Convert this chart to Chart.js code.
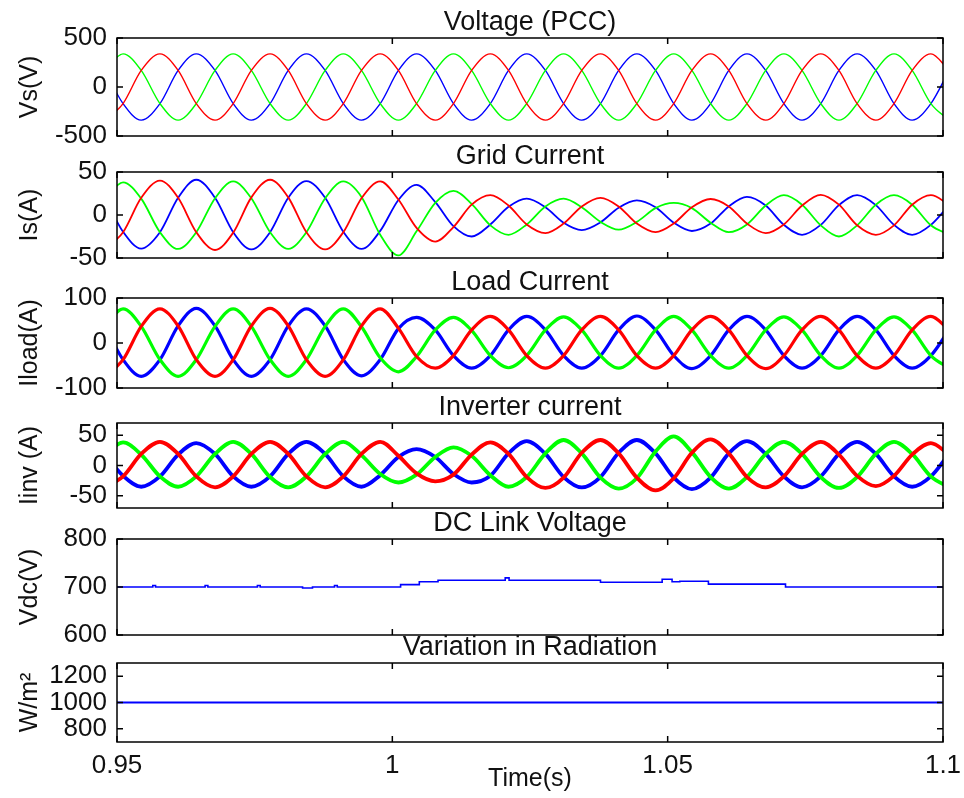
<!DOCTYPE html>
<html>
<head>
<meta charset="utf-8">
<title>PCC waveforms</title>
<script src="https://cdn.jsdelivr.net/npm/chart.js@4.4.1/dist/chart.umd.min.js"></script>
<style>
  body { margin: 0; background: #fff; }
  #wrap { position: relative; width: 964px; height: 798px; overflow: hidden; }
  #wrap canvas { position: absolute; left: 0; }
</style>
</head>
<body>
<div id="wrap">
  <canvas id="cVs"></canvas>
  <canvas id="cIs"></canvas>
  <canvas id="cIload"></canvas>
  <canvas id="cIinv"></canvas>
  <canvas id="cVdc"></canvas>
  <canvas id="cRad"></canvas>
</div>
<script>
// sample times (s), one every 60 deg of the 50 Hz wave
const timeS = [
  0.9478, 0.9511, 0.9544, 0.9578, 0.9611, 0.9644,
  0.9678, 0.9711, 0.9744, 0.9778, 0.9811, 0.9844,
  0.9878, 0.9911, 0.9944, 0.9978, 1.0011, 1.0044,
  1.0078, 1.0111, 1.0144, 1.0178, 1.0211, 1.0244,
  1.0278, 1.0311, 1.0344, 1.0378, 1.0411, 1.0444,
  1.0478, 1.0511, 1.0544, 1.0578, 1.0611, 1.0644,
  1.0678, 1.0711, 1.0744, 1.0778, 1.0811, 1.0844,
  1.0878, 1.0911, 1.0944, 1.0978, 1.1011
];

// Voltage (PCC)
const vsGreen = [
  169, 338, 169, -169, -338, -169,
  169, 338, 169, -169, -338, -169,
  169, 338, 169, -169, -338, -169,
  169, 338, 169, -169, -338, -169,
  169, 338, 169, -169, -338, -169,
  169, 338, 169, -169, -338, -169,
  169, 338, 169, -169, -338, -169,
  169, 338, 169, -169, -338
];
const vsRed = [
  -338, -169, 169, 338, 169, -169,
  -338, -169, 169, 338, 169, -169,
  -338, -169, 169, 338, 169, -169,
  -338, -169, 169, 338, 169, -169,
  -338, -169, 169, 338, 169, -169,
  -338, -169, 169, 338, 169, -169,
  -338, -169, 169, 338, 169, -169,
  -338, -169, 169, 338, 169
];
const vsBlue = [
  169, -169, -338, -169, 169, 338,
  169, -169, -338, -169, 169, 338,
  169, -169, -338, -169, 169, 338,
  169, -169, -338, -169, 169, 338,
  169, -169, -338, -169, 169, 338,
  169, -169, -338, -169, 169, 338,
  169, -169, -338, -169, 169, 338,
  169, -169, -338, -169, 169
];

// Grid Current
const isGreen = [
  19, 38, 19, -20, -39.5, -20,
  19.5, 39, 19.5, -20, -39.5, -20,
  19.5, 39, 21, -23, -47, -19,
  14, 28, 13, -12, -23, -11,
  10, 19, 9, -8, -17, -8,
  8, 14, 8, -9, -20, -11,
  11, 23, 12, -12, -25, -12,
  12, 23, 12, -12, -23
];
const isRed = [
  -40, -20, 20, 40, 20, -20,
  -40.7, -20.5, 20.5, 41, 20.5, -20,
  -40, -20, 19.5, 39, 18, -15,
  -31, -14, 12, 23, 11, -11,
  -21, -10, 10, 20, 10, -10,
  -20, -10, 9, 18.6, 10, -10,
  -21, -11, 11, 23.5, 12, -12,
  -23, -12, 12, 23, 12
];
const isBlue = [
  20, -19.5, -39, -20, 20, 41,
  20, -20, -40, -20, 20, 39.5,
  20, -19.5, -39.5, -18.5, 17.5, 35,
  15, -13, -25, -11, 9.5, 19,
  9, -9, -17.5, -8.5, 8.5, 17,
  9, -9, -18.6, -10, 10, 21,
  11, -11.5, -23, -11.5, 11.5, 23,
  11.5, -11.5, -23, -11.5, 11.5
];

// Load Current
const ilGreen = [
  38, 76, 37, -37, -74, -37,
  37, 76, 37, -37, -74, -37,
  37, 76, 36, -33, -64, -30,
  29, 57, 28, -28, -55, -28,
  29, 58, 29, -28, -56, -28,
  29, 59, 29, -28, -56, -28,
  29, 58, 29, -28, -56, -28,
  29, 58, 29, -28, -56
];
const ilRed = [
  -74, -37, 37, 76, 38, -37,
  -74, -37, 38, 77, 38, -37,
  -74, -37, 38, 76, 33, -30,
  -56, -28, 29, 59, 29, -28,
  -56, -28, 29, 59, 29, -28,
  -56, -28, 29, 59, 29, -28,
  -57, -28, 29, 59, 29, -28,
  -56, -28, 29, 59, 29
];
const ilBlue = [
  38, -37, -74, -37, 38, 77,
  38, -37, -74, -37, 38, 76,
  38, -37, -73, -37, 32, 57,
  29, -28, -56, -28, 29, 59,
  29, -28, -56, -28, 29, 60,
  29, -28, -57, -28, 29, 59,
  29, -28, -56, -28, 29, 59,
  29, -28, -56, -28, 29
];

// Inverter current
const iiGreen = [
  19, 38, 18, -18, -35, -18,
  19, 39, 19, -19, -36, -18,
  19, 39, 17, -14, -28, -15,
  14, 30, 16, -16, -35, -19,
  20, 42, 20, -20, -38, -21,
  23, 48, 22, -19, -38, -19,
  19, 39, 19, -19, -37, -19,
  19, 39, 19, -18, -36
];
const iiRed = [
  -36, -18, 19, 39, 19, -18,
  -36, -18, 19, 39, 19, -18,
  -36, -18, 19, 39, 16, -13,
  -26, -15, 18, 38, 19, -19,
  -37, -20, 21, 42, 20, -20,
  -41, -21, 21, 43, 20, -19,
  -36, -18, 19, 39, 18, -17,
  -34, -17, 18, 37, 18
];
const iiBlue = [
  18, -17, -35, -18, 18, 37,
  19, -18, -35, -18, 19, 39,
  19, -18, -35, -16, 14, 27,
  14, -14, -28, -17, 20, 40,
  19, -19, -36, -19, 21, 42,
  20, -20, -39, -20, 20, 40,
  19, -18, -36, -18, 19, 39,
  19, -18, -35, -18, 19
];

// DC Link Voltage (held between samples)
const dcTime = [0.95, 0.9565, 0.957, 0.966, 0.9665, 0.9755, 0.976, 0.9837, 0.9855, 0.9895, 0.99,
  1.0015, 1.0049, 1.0083, 1.0205, 1.0212, 1.0378, 1.049, 1.0508, 1.0522, 1.0574, 1.0714, 1.1];
const dcVolt = [700, 703, 700, 703, 700, 703, 700, 698, 700, 703, 700,
  705, 711, 714, 719, 714, 710, 716, 711, 712, 706, 700, 700];

// Variation in Radiation
const radTime = [0.95, 1.1];
const radValue = [1000, 1000];

// axis ticks
const xTicks = [0.95, 1.0, 1.05, 1.1];
const xTickLabels = ["0.95", "1", "1.05", "1.1"];
const vsTicks = [-500, 0, 500];
const isTicks = [-50, 0, 50];
const ilTicks = [-100, 0, 100];
const iiTicks = [-50, 0, 50];
const dcTicks = [600, 700, 800];
const radTicks = [800, 1000, 1200];

Chart.defaults.font.family = "'Liberation Sans', Arial, sans-serif";
Chart.defaults.color = "#111";

const PLOT_LEFT = 117;
const PLOT_RIGHT = 943;
const TITLE_SPACE = 36;
const BELOW = 24; // room under each box for the lowest tick label

// MATLAB style box with inward ticks on all sides
const boxPlugin = {
  id: "matlabBox",
  afterDatasetsDraw(chart) {
    const { ctx, chartArea: a, scales } = chart;
    const x = scales.x;
    const y = scales.y;
    ctx.save();
    ctx.strokeStyle = "#000";
    ctx.lineWidth = 1.5;
    ctx.strokeRect(a.left, a.top, a.right - a.left, a.bottom - a.top);
    ctx.beginPath();
    x.ticks.forEach((t) => {
      const px = x.getPixelForValue(t.value);
      ctx.moveTo(px, a.top);
      ctx.lineTo(px, a.top + 6);
      ctx.moveTo(px, a.bottom);
      ctx.lineTo(px, a.bottom - 6);
    });
    y.ticks.forEach((t) => {
      const py = y.getPixelForValue(t.value);
      ctx.moveTo(a.left, py);
      ctx.lineTo(a.left + 6, py);
      ctx.moveTo(a.right, py);
      ctx.lineTo(a.right - 6, py);
    });
    ctx.stroke();
    ctx.restore();
  },
};

const toPoints = (times, vals) => times.map((t, i) => ({ x: t, y: vals[i] }));

const wave = (label, times, vals, color, width) => ({
  label: label,
  data: toPoints(times, vals),
  borderColor: color,
  borderWidth: width,
  pointRadius: 0,
  cubicInterpolationMode: "monotone",
});

const makePanel = (id, box, cfg) => {
  const last = !!cfg.last;
  const canvas = document.getElementById(id);
  const top = box[0] - TITLE_SPACE;
  const h = last ? 798 - top : box[1] - box[0] + TITLE_SPACE + BELOW;
  canvas.width = 964;
  canvas.height = h;
  canvas.style.top = top + "px";

  return new Chart(canvas.getContext("2d"), {
    type: "line",
    data: { datasets: cfg.datasets },
    options: {
      responsive: false,
      animation: false,
      events: [],
      layout: {
        autoPadding: false,
        padding: { left: 0, right: 964 - PLOT_RIGHT, top: 0, bottom: last ? 0 : BELOW },
      },
      plugins: {
        legend: { display: false },
        tooltip: { enabled: false },
        title: {
          display: true,
          text: cfg.title,
          fullSize: false,
          color: "#111",
          font: { size: 27, weight: "normal", lineHeight: "30px" },
          padding: { top: 6, bottom: 0 },
        },
      },
      scales: {
        x: {
          type: "linear",
          min: 0.95,
          max: 1.1,
          grid: { display: false },
          border: { display: false },
          afterBuildTicks: (s) => {
            s.ticks = xTicks.map((v) => ({ value: v }));
          },
          afterFit: (s) => {
            s.height = last ? 798 - box[1] : 0;
            s.paddingLeft = 0;
            s.paddingRight = 0;
          },
          ticks: {
            display: last,
            autoSkip: false,
            maxRotation: 0,
            padding: 0,
            font: { size: 26 },
            callback: (v, i) => xTickLabels[i],
          },
          title: {
            display: last,
            text: "Time(s)",
            font: { size: 25 },
            padding: { top: 0, bottom: 4 },
          },
        },
        y: {
          type: "linear",
          min: cfg.min,
          max: cfg.max,
          grid: { display: false },
          border: { display: false },
          afterBuildTicks: (s) => {
            s.ticks = cfg.ticks.map((v) => ({ value: v }));
          },
          afterFit: (s) => {
            s.width = PLOT_LEFT;
            s.paddingTop = 0;
            s.paddingBottom = 0;
          },
          ticks: {
            autoSkip: false,
            padding: 2,
            font: { size: 26 },
            callback: (v) => String(v),
          },
          title: {
            display: true,
            text: cfg.yLabel,
            font: { size: 25 },
            padding: { top: 15, bottom: 0 },
          },
        },
      },
    },
    plugins: [boxPlugin],
  });
};

const BLUE = "#0000ff";
const GREEN = "#00ff00";
const RED = "#ff0000";

makePanel("cVs", [38, 136], {
  title: "Voltage (PCC)", yLabel: "Vs(V)", min: -500, max: 500, ticks: vsTicks,
  datasets: [
    wave("Vc", timeS, vsRed, RED, 1.4),
    wave("Vb", timeS, vsGreen, GREEN, 1.4),
    wave("Va", timeS, vsBlue, BLUE, 1.4),
  ],
});

makePanel("cIs", [172, 258], {
  title: "Grid Current", yLabel: "Is(A)", min: -50, max: 50, ticks: isTicks,
  datasets: [
    wave("Isc", timeS, isRed, RED, 1.8),
    wave("Isb", timeS, isGreen, GREEN, 1.8),
    wave("Isa", timeS, isBlue, BLUE, 1.8),
  ],
});

makePanel("cIload", [298, 388], {
  title: "Load Current", yLabel: "Iload(A)", min: -100, max: 100, ticks: ilTicks,
  datasets: [
    wave("ILc", timeS, ilRed, RED, 3.2),
    wave("ILb", timeS, ilGreen, GREEN, 3.2),
    wave("ILa", timeS, ilBlue, BLUE, 3.2),
  ],
});

makePanel("cIinv", [423, 508], {
  title: "Inverter current", yLabel: "Iinv (A)", min: -70, max: 70, ticks: iiTicks,
  datasets: [
    wave("Iinvc", timeS, iiRed, RED, 3.8),
    wave("Iinvb", timeS, iiGreen, GREEN, 3.8),
    wave("Iinva", timeS, iiBlue, BLUE, 3.8),
  ],
});

makePanel("cVdc", [539, 635], {
  title: "DC Link Voltage", yLabel: "Vdc(V)", min: 600, max: 800, ticks: dcTicks,
  datasets: [
    { label: "Vdc", data: toPoints(dcTime, dcVolt), borderColor: BLUE, borderWidth: 1.6, pointRadius: 0, stepped: true },
  ],
});

makePanel("cRad", [663, 742], {
  title: "Variation in Radiation", yLabel: "W/m²", min: 700, max: 1300, ticks: radTicks, last: true,
  datasets: [
    { label: "G", data: toPoints(radTime, radValue), borderColor: BLUE, borderWidth: 2.2, pointRadius: 0 },
  ],
});
</script>
</body>
</html>
